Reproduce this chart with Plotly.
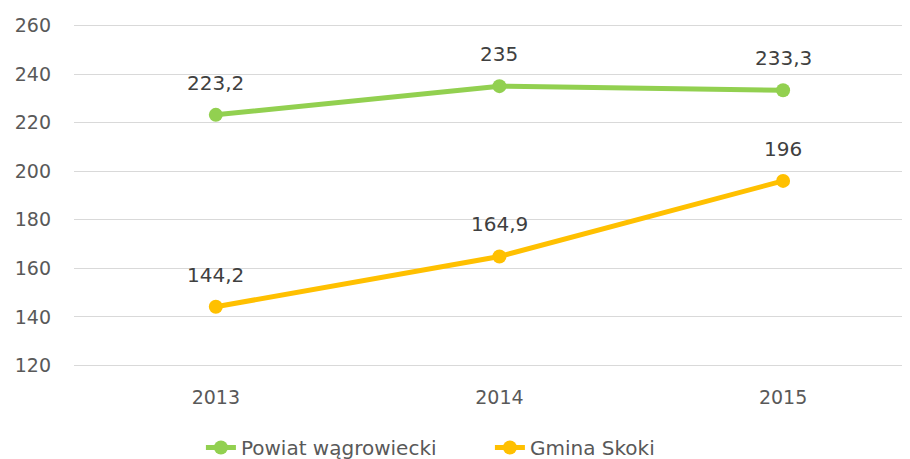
import plotly.graph_objects as go

years = ["2013", "2014", "2015"]
powiat = [223.2, 235, 233.3]
gmina = [144.2, 164.9, 196]
powiat_labels = ["223,2", "235", "233,3"]
gmina_labels = ["144,2", "164,9", "196"]
y_ticks = [120, 140, 160, 180, 200, 220, 240, 260]

FONT = "DejaVu Sans"
GREEN = "#92D050"
YELLOW = "#FFC000"
fig = go.Figure()
xs = list(range(len(years)))
fig.add_trace(go.Scatter(
    x=xs, y=powiat, name="Powiat wągrowiecki", mode="lines+markers",
    line=dict(color=GREEN, width=5), marker=dict(size=14, color=GREEN),
))
fig.add_trace(go.Scatter(
    x=xs, y=gmina, name="Gmina Skoki", mode="lines+markers",
    line=dict(color=YELLOW, width=5), marker=dict(size=14, color=YELLOW),
))
for vals, labs in ((powiat, powiat_labels), (gmina, gmina_labels)):
    for x, v, t in zip(xs, vals, labs):
        fig.add_annotation(x=x, y=v, text=t, showarrow=False, yshift=32,
                           font=dict(size=20, color="#404040", family=FONT))
fig.update_layout(
    width=910, height=459,
    margin=dict(l=66, r=7, t=15, b=99, autoexpand=False),
    plot_bgcolor="white", paper_bgcolor="white",
    font=dict(family=FONT, size=19, color="#595959"),
    showlegend=True,
    legend=dict(orientation="h", xref="container", x=0.212, xanchor="left",
                yref="container", y=0.085, yanchor="top",
                font=dict(size=20, color="#595959"), itemwidth=30,
                entrywidth=244, entrywidthmode="pixels"),
    xaxis=dict(range=[-0.5, 2.451], tickvals=xs, ticktext=years, showgrid=False,
               zeroline=False, showline=False, ticks="", ticklabelstandoff=16,
               automargin=False),
    yaxis=dict(range=[119, 261], tickvals=y_ticks, showgrid=True, gridcolor="#D9D9D9",
               gridwidth=1.3, zeroline=False, showline=False, ticklabelstandoff=22,
               automargin=False),
)
fig.write_html("out.html")
